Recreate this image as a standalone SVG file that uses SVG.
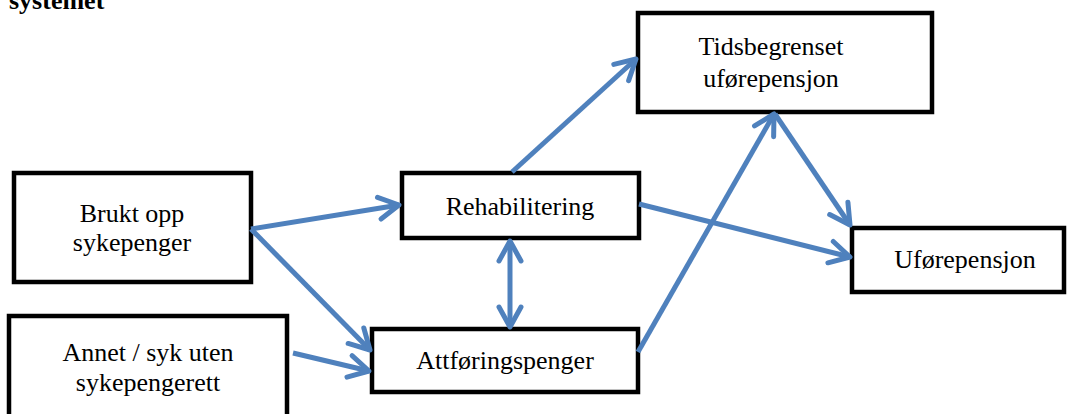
<svg xmlns="http://www.w3.org/2000/svg" width="1067" height="414" viewBox="0 0 1067 414">
<defs>
<style>
.box{fill:#fff;stroke:#000;stroke-width:4.5}
.t{font-family:"Liberation Serif","Times New Roman",serif;font-size:26px;fill:#000;text-anchor:middle}
.c{stroke:#4F81BD;stroke-width:5;fill:none;marker-end:url(#ah)}
</style>
<marker id="ah" markerUnits="userSpaceOnUse" markerWidth="30" markerHeight="30" viewBox="-24 -15 30 30" refX="0" refY="0" orient="auto-start-reverse">
<path d="M-20,-11 L0,0 L-20,11" fill="none" stroke="#4F81BD" stroke-width="5" stroke-linecap="round" stroke-linejoin="round"/>
</marker>
</defs>
<rect width="1067" height="414" fill="#fff"/>
<text x="9" y="9" font-family="Liberation Serif,serif" font-size="26" font-weight="bold">systemet</text>
<g id="n-brukt"><rect class="box" x="14" y="173" width="237" height="109"/><text class="t" x="132" y="222">Brukt opp</text><text class="t" x="132" y="251">sykepenger</text></g>
<g id="n-annet"><rect class="box" x="9" y="316" width="278" height="110"/><text class="t" x="148" y="361">Annet / syk uten</text><text class="t" x="148" y="391">sykepengerett</text></g>
<g id="n-rehab"><rect class="box" x="402" y="173" width="237" height="65"/><text class="t" x="520" y="215">Rehabilitering</text></g>
<g id="n-attf"><rect class="box" x="372" y="329" width="266" height="63"/><text class="t" x="505" y="369">Attføringspenger</text></g>
<g id="n-tids"><rect class="box" x="638" y="13" width="294" height="99"/><text class="t" x="771" y="55">Tidsbegrenset</text><text class="t" x="771" y="87">uførepensjon</text></g>
<g id="n-ufore"><rect class="box" x="852" y="228" width="212" height="64"/><text class="t" x="965" y="268">Uførepensjon</text></g>
<g id="connectors">
<line class="c" x1="251" y1="229" x2="399" y2="205"/>
<line class="c" x1="251" y1="229" x2="370" y2="350"/>
<line class="c" x1="293" y1="353" x2="369" y2="371"/>
<line class="c" x1="510" y1="241" x2="510" y2="327" marker-start="url(#ah)"/>
<line class="c" x1="512" y1="172" x2="636" y2="59"/>
<line class="c" x1="638" y1="352" x2="774" y2="114"/>
<line class="c" x1="775" y1="114" x2="850" y2="225"/>
<line class="c" x1="639" y1="204" x2="850" y2="257"/>
</g>
</svg>
